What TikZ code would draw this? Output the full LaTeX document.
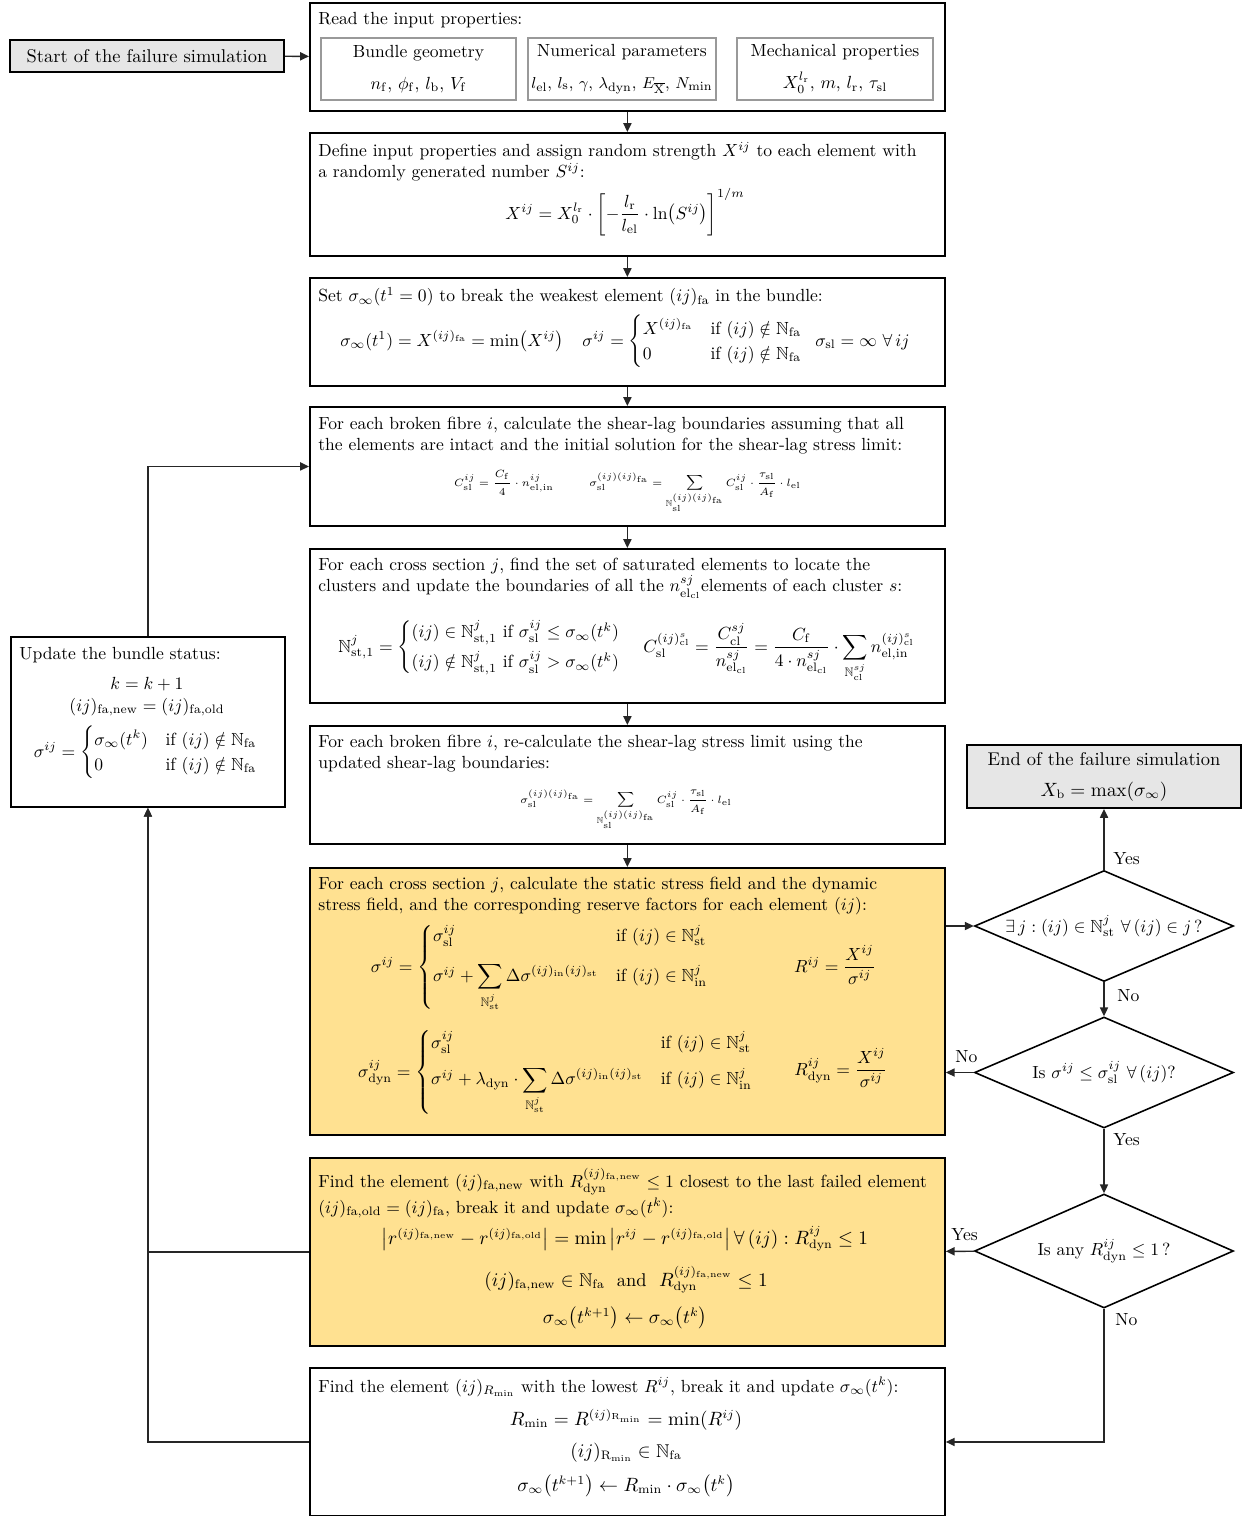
\documentclass[tikz,border=0pt]{standalone}
\usepackage{amsmath,amssymb}
\usepackage{xcolor}
\usepackage{tikz}
\usetikzlibrary{arrows.meta,shapes.geometric,positioning}
\definecolor{amarillo}{RGB}{255,225,145}
\definecolor{gris}{RGB}{230,230,230}
\tikzset{
  caja/.style={draw=black,line width=1.1pt,anchor=north west,inner sep=0pt,minimum width=12.7cm},
  sub/.style={draw=gray!80,line width=0.6pt,align=center,inner sep=0pt,minimum height=1.24cm},
  texto/.style={anchor=north west,inner sep=0pt,align=left},
  eq/.style={anchor=base,inner sep=0pt},
  chica/.style={font=\fontsize{6}{7}\selectfont},
  extremo/.style={draw=black,fill=gris,line width=1.1pt,inner sep=0pt,minimum width=5.48cm,align=center},
  pregunta/.style={diamond,draw=black,line width=0.9pt,inner sep=0pt,shape aspect=2.33,minimum width=5.18cm,minimum height=2.22cm},
  flujo/.style={-{Triangle[length=5pt,width=4.6pt]},black!85,line width=0.8pt},
  etiq/.style={inner sep=0pt}
}

\begin{document}
\begin{tikzpicture}[x=0.02cm,y=-0.02cm,font=\fontsize{10}{12}\selectfont]
\useasboundingbox (0,0) rectangle (1244,1516);
% columna central
\node[caja,minimum height=2.16cm] (b1) at (309,2) {};
\node[caja,minimum height=2.46cm] (b2) at (309,132) {};
\node[caja,minimum height=2.16cm] (b3) at (309,277) {};
\node[caja,minimum height=2.38cm] (b4) at (309,406) {};
\node[caja,minimum height=3.08cm] (b5) at (309,548) {};
\node[caja,minimum height=2.36cm] (b6) at (309,725) {};
\node[caja,fill=amarillo,minimum height=5.34cm] (b7) at (309,867) {};
\node[caja,fill=amarillo,minimum height=3.76cm] (b8) at (309,1157) {};
\node[caja,minimum height=2.96cm] (b9) at (309,1367) {};
% inicio, fin y actualizacion
\node[extremo,minimum height=0.64cm,font=\fontsize{10.5}{12}\selectfont] (ini) at (147,56) {Start of the failure simulation};
\node[extremo,minimum height=1.26cm,font=\fontsize{10.5}{12.6}\selectfont] (fin) at (1104,776.5) {End of the failure simulation\\[5pt] $X_\mathrm{b}=\max(\sigma_\infty)$};
\node[caja,minimum width=5.48cm,minimum height=3.4cm] (upd) at (10,636) {};
% preguntas
\node[pregunta] (q1) at (1104,926) {$\exists\, j : (ij)\in\mathbb{N}^j_\mathrm{st}\ \forall\,(ij)\in j\,?$};
\node[pregunta] (q2) at (1104,1072.5) {Is $\sigma^{ij}\le\sigma^{ij}_\mathrm{sl}\ \forall\,(ij)$?};
\node[pregunta,minimum height=2.28cm] (q3) at (1104,1251) {Is any $R^{ij}_\mathrm{dyn}\le 1\,$?};

% caja 1: propiedades
\node[texto] (t1) at (318,12) {Read the input properties:};
\node[sub,minimum width=3.9cm] (geo) at (418.5,69) {Bundle geometry\\[6pt] $n_\mathrm{f}$, $\phi_\mathrm{f}$, $l_\mathrm{b}$, $V_\mathrm{f}$};
\node[sub,minimum width=3.76cm] (num) at (622,69) {Numerical parameters\\[6pt] \fontsize{9.5}{11}\selectfont $l_\mathrm{el}$, $l_\mathrm{s}$, $\gamma$, $\lambda_\mathrm{dyn}$, $E_{\overline{\mathrm{X}}}$, $N_\mathrm{min}$};
\node[sub,minimum width=3.92cm] (mec) at (835,69) {Mechanical properties\\[6pt] $X_0^{l_\mathrm{r}}$, $m$, $l_\mathrm{r}$, $\tau_\mathrm{sl}$};

% caja 2
\node[texto] (t2) at (318,142) {Define input properties and assign random strength $X^{ij}$ to each element with\\ a randomly generated number $S^{ij}$:};
\node[eq] (f2) at (625,219) {$X^{ij}=X_0^{l_\mathrm{r}}\cdot\left[-\dfrac{l_\mathrm{r}}{l_\mathrm{el}}\cdot\ln\!\left(S^{ij}\right)\right]^{1/m}$};

% caja 3
\node[texto] (t3) at (318,287) {Set $\sigma_\infty(t^1=0)$ to break the weakest element $(ij)_\mathrm{fa}$ in the bundle:};
\node[eq,anchor=base west] (f3a) at (340,346) {$\sigma_\infty(t^1)=X^{(ij)_\mathrm{fa}}=\min\!\left(X^{ij}\right)$};
\node[eq,anchor=base west] (f3b) at (582,346) {$\sigma^{ij}=\begin{cases}X^{(ij)_\mathrm{fa}} & \text{if } (ij)\notin\mathbb{N}_\mathrm{fa}\\ 0 & \text{if } (ij)\notin\mathbb{N}_\mathrm{fa}\end{cases}$};
\node[eq,anchor=base east] (f3c) at (910,346) {$\sigma_\mathrm{sl}=\infty\ \forall\, ij$};

% caja 4
\node[texto] (t4) at (318,417) {For each broken fibre $i$, calculate the shear-lag boundaries assuming that all\\ the elements are intact and the initial solution for the shear-lag stress limit:};
\node[eq,chica] (f4a) at (504,486) {$C^{ij}_\mathrm{sl}=\dfrac{C_\mathrm{f}}{4}\cdot n^{ij}_\mathrm{el,in}$};
\node[eq,chica] (f4b) at (695,486) {$\sigma_\mathrm{sl}^{(ij)(ij)_\mathrm{fa}}=\displaystyle\sum_{\mathbb{N}_\mathrm{sl}^{(ij)(ij)_\mathrm{fa}}} C^{ij}_\mathrm{sl}\cdot\frac{\tau_\mathrm{sl}}{A_\mathrm{f}}\cdot l_\mathrm{el}$};

% caja 5
\node[texto] (t5) at (318,558) {For each cross section $j$, find the set of saturated elements to locate the\\ clusters and update the boundaries of all the $n^{sj}_{\mathrm{el}_\mathrm{cl}}$elements of each cluster $s$:};
\node[eq,anchor=base west] (f5a) at (338,652) {$\mathbb{N}^j_{\mathrm{st},1}=\begin{cases}(ij)\in\mathbb{N}^j_{\mathrm{st},1}\ \text{if}\ \sigma^{ij}_\mathrm{sl}\le\sigma_\infty(t^k)\\[3pt] (ij)\notin\mathbb{N}^j_{\mathrm{st},1}\ \text{if}\ \sigma^{ij}_\mathrm{sl}>\sigma_\infty(t^k)\end{cases}$};
\node[eq,anchor=base east] (f5b) at (915,652) {$C_\mathrm{sl}^{(ij)^s_\mathrm{cl}}=\dfrac{C^{sj}_\mathrm{cl}}{n^{sj}_{\mathrm{el}_\mathrm{cl}}}=\dfrac{C_\mathrm{f}}{4\cdot n^{sj}_{\mathrm{el}_\mathrm{cl}}}\cdot\displaystyle\sum_{\mathbb{N}^{sj}_\mathrm{cl}} n^{(ij)^s_\mathrm{cl}}_\mathrm{el,in}$};

% caja 6
\node[texto] (t6) at (318,735) {For each broken fibre $i$, re-calculate the shear-lag stress limit using the\\ updated shear-lag boundaries:};
\node[eq,chica] (f6) at (626,803) {$\sigma_\mathrm{sl}^{(ij)(ij)_\mathrm{fa}}=\displaystyle\sum_{\mathbb{N}_\mathrm{sl}^{(ij)(ij)_\mathrm{fa}}} C^{ij}_\mathrm{sl}\cdot\frac{\tau_\mathrm{sl}}{A_\mathrm{f}}\cdot l_\mathrm{el}$};

% caja 7: campos de tension
\node[texto] (t7) at (318,877) {For each cross section $j$, calculate the static stress field and the dynamic\\ stress field, and the corresponding reserve factors for each element $(ij)$:};
\node[eq] (f7a) at (540,972) {$\sigma^{ij}=\begin{cases}\sigma^{ij}_\mathrm{sl} & \text{if } (ij)\in\mathbb{N}^j_\mathrm{st}\\[8pt] \sigma^{ij}+\displaystyle\sum_{\mathbb{N}^j_\mathrm{st}}\Delta\sigma^{(ij)_\mathrm{in}(ij)_\mathrm{st}} & \text{if } (ij)\in\mathbb{N}^j_\mathrm{in}\end{cases}$};
\node[eq] (f7r) at (835,972) {$R^{ij}=\dfrac{X^{ij}}{\sigma^{ij}}$};
\node[eq] (f7b) at (556,1077) {$\sigma^{ij}_\mathrm{dyn}=\begin{cases}\sigma^{ij}_\mathrm{sl} & \text{if } (ij)\in\mathbb{N}^j_\mathrm{st}\\[6pt] \sigma^{ij}+\lambda_\mathrm{dyn}\cdot\displaystyle\sum_{\mathbb{N}^j_\mathrm{st}}\Delta\sigma^{(ij)_\mathrm{in}(ij)_\mathrm{st}} & \text{if } (ij)\in\mathbb{N}^j_\mathrm{in}\end{cases}$};
\node[eq] (f7s) at (841,1075) {$R^{ij}_\mathrm{dyn}=\dfrac{X^{ij}}{\sigma^{ij}}$};

% caja 8: rotura del elemento mas cercano
\node[texto] (t8) at (318,1168) {Find the element $(ij)_\mathrm{fa,new}$ with $R_\mathrm{dyn}^{(ij)_\mathrm{fa,new}}\le 1$ closest to the last failed element\\[1pt] $(ij)_\mathrm{fa,old}=(ij)_\mathrm{fa}$, break it and update $\sigma_\infty(t^k)$:};
\node[eq,font=\fontsize{10.5}{12}\selectfont] (f8a) at (625,1244) {$\left|r^{(ij)_\mathrm{fa,new}}-r^{(ij)_\mathrm{fa,old}}\right|=\min\left|r^{ij}-r^{(ij)_\mathrm{fa,old}}\right|\forall\,(ij):R^{ij}_\mathrm{dyn}\le 1$};
\node[eq,font=\fontsize{10.5}{12}\selectfont] (f8b) at (626,1286) {$(ij)_\mathrm{fa,new}\in\mathbb{N}_\mathrm{fa}$ \ and \ $R_\mathrm{dyn}^{(ij)_\mathrm{fa,new}}\le 1$};
\node[eq,font=\fontsize{10.5}{12}\selectfont] (f8c) at (625,1323) {$\sigma_\infty\!\left(t^{k+1}\right)\leftarrow\sigma_\infty\!\left(t^k\right)$};

% caja 9: rotura del minimo
\node[texto] (t9) at (318,1377) {Find the element $(ij)_{R_\mathrm{min}}$ with the lowest $R^{ij}$, break it and update $\sigma_\infty(t^k)$:};
\node[eq,font=\fontsize{10.5}{12}\selectfont] (f9a) at (626,1425) {$R_\mathrm{min}=R^{(ij)_{\mathrm{R}_\mathrm{min}}}=\min(R^{ij})$};
\node[eq,font=\fontsize{10.5}{12}\selectfont] (f9b) at (626,1457) {$(ij)_{\mathrm{R}_\mathrm{min}}\in\mathbb{N}_\mathrm{fa}$};
\node[eq,font=\fontsize{10.5}{12}\selectfont] (f9c) at (626,1491) {$\sigma_\infty\!\left(t^{k+1}\right)\leftarrow R_\mathrm{min}\cdot\sigma_\infty\!\left(t^k\right)$};

% caja de actualizacion
\node[texto] (tu) at (19,647) {Update the bundle status:};
\node[eq] (u1) at (147,689) {$k=k+1$};
\node[eq] (u2) at (147,711) {$(ij)_\mathrm{fa,new}=(ij)_\mathrm{fa,old}$};
\node[eq] (u3) at (146,757) {$\sigma^{ij}=\begin{cases}\sigma_\infty(t^k) & \text{if } (ij)\notin\mathbb{N}_\mathrm{fa}\\ 0 & \text{if } (ij)\notin\mathbb{N}_\mathrm{fa}\end{cases}$};

% conectores
\draw[flujo] (ini) -- (b1);
\draw[flujo] (b1) -- (b2); \draw[flujo] (b2) -- (b3); \draw[flujo] (b3) -- (b4);
\draw[flujo] (b4) -- (b5); \draw[flujo] (b5) -- (b6); \draw[flujo] (b6) -- (b7);
\draw[flujo] (b7.east |- q1) -- (q1);
\draw[flujo] (q1) -- (fin);
\draw[flujo] (q1) -- (q2);
\draw[flujo] (q2) -- (b7.east |- q2);
\draw[flujo] (q2) -- (q3);
\draw[flujo] (q3) -- (b8);
\draw[flujo] (q3.south) |- (b9.east);
\draw[flujo] (b8.west) -| (upd.south);
\draw[flujo] (b9.west) -| (upd.south);
\draw[flujo] (upd.north) |- (b4.west);
% etiquetas
\node[etiq,anchor=west] (y1) at (1113,859) {Yes};
\node[etiq,anchor=west] (n1) at (1117,996) {No};
\node[etiq,anchor=west] (n2) at (955,1057) {No};
\node[etiq,anchor=west] (y2) at (1113,1140) {Yes};
\node[etiq,anchor=west] (y3) at (951,1235) {Yes};
\node[etiq,anchor=west] (n3) at (1115,1320) {No};
\end{tikzpicture}
\end{document}
